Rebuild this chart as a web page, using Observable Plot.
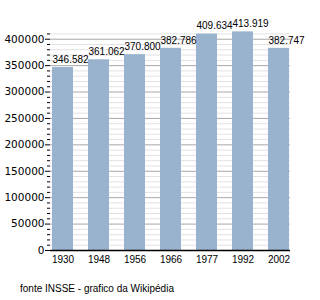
<!DOCTYPE html>
<html>
<head>
<meta charset="utf-8">
<script src="https://cdn.jsdelivr.net/npm/d3@7"></script>
<script src="https://cdn.jsdelivr.net/npm/@observablehq/plot@0.6"></script>
<style>
  body { margin: 0; background: #fff; }
  #chart svg { display: block; }
  .cap { font: 10px "Liberation Sans", Arial, sans-serif; color: #000; margin: 15px 0 0 20px; }
</style>
</head>
<body>
<div id="chart"></div>
<script>
const years = ["1930", "1948", "1956", "1966", "1977", "1992", "2002"];
const population = [346582, 361062, 370800, 382786, 409634, 413919, 382747];
const valueLabels = ["346.582", "361.062", "370.800", "382.786", "409.634", "413.919", "382.747"];
const majorTicks = [0, 50000, 100000, 150000, 200000, 250000, 300000, 350000, 400000];
const minorTicks = d3.range(0, 410001, 10000).filter(v => v % 50000 !== 0);
const captionText = "fonte INSSE - grafico da Wikipédia";

const data = years.map((y, i) => ({year: y, value: population[i], label: valueLabels[i]}));

const chart = Plot.plot({
  width: 320,
  height: 268,
  marginLeft: 50,
  marginRight: 30,
  marginTop: 30,
  marginBottom: 18,
  style: {fontFamily: "'Liberation Sans', Arial, sans-serif", fontSize: "10px", color: "#000", background: "#fff"},
  x: {domain: years, paddingInner: 0.425, paddingOuter: 0, axis: null, label: null},
  y: {domain: [0, 416500], axis: null, label: null},
  marks: [
    Plot.ruleY(minorTicks, {stroke: "#e2e2e2", strokeWidth: 1}),
    Plot.ruleY(majorTicks, {stroke: "#a8a8a8", strokeWidth: 1}),
    Plot.barY(data, {x: "year", y: "value", fill: "#99b3cf"}),
    Plot.text(data, {x: "year", y: "value", text: "label", textAnchor: "start", dx: -10.5, dy: -8, fontSize: 10}),
    Plot.axisY(minorTicks, {tickSize: 3, text: null, label: null, stroke: "#000"}),
    Plot.axisY(majorTicks, {tickSize: 5, tickPadding: 1, label: null, fontSize: 10.5, fontFamily: "'DejaVu Sans', Verdana, sans-serif", tickFormat: d => String(d), stroke: "#000"}),
    Plot.axisX({tickSize: 0, tickPadding: 5, label: null, fontSize: 10}),
    Plot.ruleX([0], {frameAnchor: "left", stroke: "#000", strokeWidth: 1.5}),
    Plot.ruleY([0], {stroke: "#000", strokeWidth: 1.5})
  ]
});

document.getElementById("chart").appendChild(chart);
const cap = document.createElement("div");
cap.className = "cap";
cap.textContent = captionText;
document.getElementById("chart").appendChild(cap);
</script>
</body>
</html>
